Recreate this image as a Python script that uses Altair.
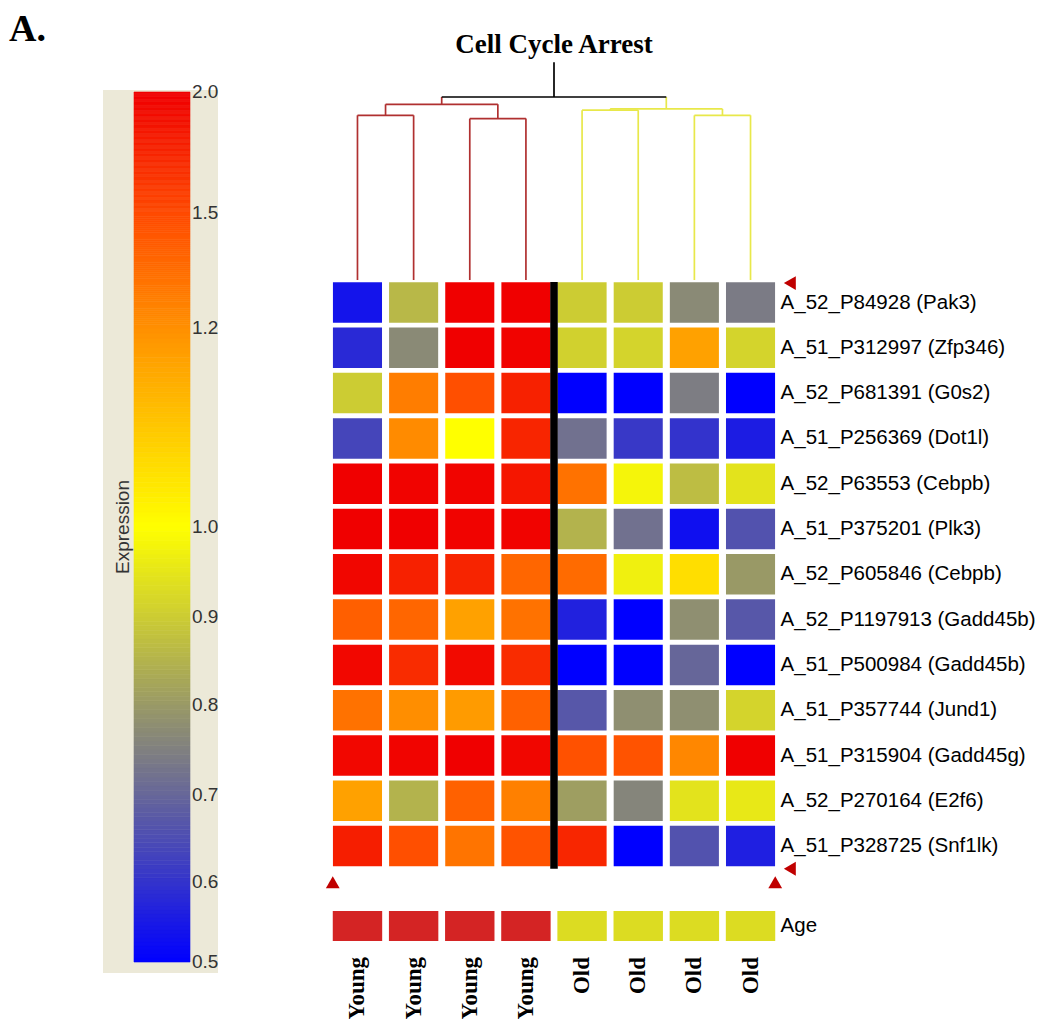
import altair as alt
import pandas as pd
import numpy as np

# ---------------- data ----------------
samples = ["Young", "Young", "Young", "Young", "Old", "Old", "Old", "Old"]
genes = [
    "A_52_P84928 (Pak3)",
    "A_51_P312997 (Zfp346)",
    "A_52_P681391 (G0s2)",
    "A_51_P256369 (Dot1l)",
    "A_52_P63553 (Cebpb)",
    "A_51_P375201 (Plk3)",
    "A_52_P605846 (Cebpb)",
    "A_52_P1197913 (Gadd45b)",
    "A_51_P500984 (Gadd45b)",
    "A_51_P357744 (Jund1)",
    "A_51_P315904 (Gadd45g)",
    "A_52_P270164 (E2f6)",
    "A_51_P328725 (Snf1lk)",
]
expression = [
    [0.54, 0.86, 2.00, 2.00, 0.90, 0.90, 0.77, 0.74],
    [0.58, 0.77, 2.00, 1.98, 0.91, 0.915, 1.17, 0.915],
    [0.90, 1.28, 1.48, 1.78, 0.50, 0.50, 0.745, 0.50],
    [0.635, 1.22, 1.00, 1.75, 0.72, 0.61, 0.60, 0.555],
    [2.00, 1.98, 1.97, 1.85, 1.33, 0.98, 0.87, 0.945],
    [2.00, 2.00, 1.98, 1.98, 0.85, 0.72, 0.53, 0.66],
    [1.96, 1.78, 1.76, 1.38, 1.36, 0.97, 1.06, 0.80],
    [1.41, 1.38, 1.17, 1.33, 0.565, 0.50, 0.78, 0.67],
    [1.95, 1.70, 1.93, 1.70, 0.50, 0.50, 0.70, 0.50],
    [1.33, 1.21, 1.18, 1.40, 0.67, 0.78, 0.78, 0.915],
    [1.95, 1.97, 2.00, 1.96, 1.47, 1.46, 1.24, 2.00],
    [1.17, 0.85, 1.40, 1.27, 0.81, 0.76, 0.945, 0.955],
    [1.80, 1.48, 1.32, 1.46, 1.74, 0.50, 0.66, 0.56],
]
# dendrogram merges: (left child, right child, height); leaves are sample indices
merges = [
    (0, 1, 0.900),
    (2, 3, 0.882),
    (4, 5, 0.928),
    (6, 7, 0.900),
    ("m0", "m1", 0.960),
    ("m2", "m3", 0.935),
    ("m4", "m5", 1.000),
]
stem_height = 1.19
cbar_ticks = [0.5, 0.6, 0.7, 0.8, 0.9, 1.0, 1.2, 1.5, 2.0]

# ---------------- scales / styles ----------------
XS = alt.Scale(domain=[-0.5, 7.5], range=[321.4, 770.6], nice=False, zero=False)
ROWS = alt.Scale(domain=[-0.5, 12.5], range=[271.85, 860.75], nice=False, zero=False)
DEND = alt.Scale(domain=[0, 1], range=[272, 89], nice=False, zero=False)
AGE = alt.Scale(domain=["Age"], range=[903, 933], paddingInner=0, paddingOuter=0)
CBAR_Y = alt.Scale(domain=cbar_ticks,
                   range=[954, 874, 787, 697, 609, 519, 320, 205, 84],
                   nice=False, zero=False)
COLOR = alt.Scale(domain=[0.5, 0.75, 1.0, 1.2, 1.5, 2.0],
                  range=["#0000ff", "#808080", "#ffff00", "#ff9000", "#ff4a00", "#f00000"],
                  interpolate="rgb", clamp=True)
SANS = "Liberation Sans"
SERIF = "Liberation Serif"

# ---------------- tables ----------------
heat_df = pd.DataFrame([
    {"row": r, "col": c, "gene": genes[r], "value": expression[r][c]}
    for r in range(len(genes)) for c in range(len(samples))
])
gene_df = pd.DataFrame({"row": list(range(len(genes))), "gene": genes})
age_df = pd.DataFrame({"col": list(range(len(samples))), "group": samples, "track": "Age"})
sample_df = pd.DataFrame({"col": list(range(len(samples))), "label": samples})

# dendrogram segments
pos = {i: (float(i), 0.0, samples[i]) for i in range(len(samples))}
segs = []
for k, (a, b, h) in enumerate(merges):
    xa, ha, ga = pos[a]
    xb, hb, gb = pos[b]
    grp = ga if ga == gb else "root"
    segs.append({"x": xa, "x2": xa, "y": ha, "y2": h, "grp": ga})
    segs.append({"x": xb, "x2": xb, "y": hb, "y2": h, "grp": gb})
    segs.append({"x": xa, "x2": xb, "y": h, "y2": h, "grp": grp})
    pos["m%d" % k] = ((xa + xb) / 2.0, h, grp)
root_x, root_h, _ = pos["m%d" % (len(merges) - 1)]
segs.append({"x": root_x, "x2": root_x, "y": root_h, "y2": stem_height, "grp": "root"})
seg_df = pd.DataFrame(segs)

step = 0.005
grad_v = np.round(np.arange(0.5, 2.0, step), 4)
grad_df = pd.DataFrame({"v0": grad_v, "v1": grad_v + step, "vm": grad_v + step / 2})
tick_df = pd.DataFrame({"tick": cbar_ticks})
one = pd.DataFrame({"k": [0]})

# ---------------- layers ----------------
cells = alt.Chart(heat_df).transform_calculate(
    x0="datum.col - 0.437", x1="datum.col + 0.437",
    y0="datum.row - 0.447", y1="datum.row + 0.447",
).mark_rect().encode(
    x=alt.X("x0:Q", scale=XS, axis=None), x2="x1:Q",
    y=alt.Y("y0:Q", scale=ROWS, axis=None), y2="y1:Q",
    color=alt.Color("value:Q", scale=COLOR, legend=None),
)

separator = alt.Chart(one).mark_rule(color="black", strokeWidth=7.5).encode(
    x=alt.XDatum(3.5, scale=XS, axis=None),
    y=alt.YDatum(-0.45, scale=ROWS, axis=None),
    y2=alt.Y2Datum(12.5),
)

gene_labels = alt.Chart(gene_df).mark_text(
    align="left", baseline="middle", font=SANS, fontSize=20.5, color="black", dx=2
).encode(
    x=alt.XDatum(7.5, scale=XS, axis=None),
    y=alt.Y("row:Q", scale=ROWS, axis=None),
    text="gene:N",
)

age_cells = alt.Chart(age_df).transform_calculate(
    x0="datum.col - 0.44", x1="datum.col + 0.44"
).mark_rect().encode(
    x=alt.X("x0:Q", scale=XS, axis=None), x2="x1:Q",
    y=alt.Y("track:N", scale=AGE, axis=None),
    color=alt.Color("group:N", scale=alt.Scale(domain=["Young", "Old"],
                                               range=["#d42424", "#dcdc22"]), legend=None),
)

age_label = alt.Chart(age_df.iloc[:1]).mark_text(
    align="left", baseline="middle", font=SANS, fontSize=20.5, color="black", dx=2
).encode(
    x=alt.XDatum(7.5, scale=XS, axis=None),
    y=alt.Y("track:N", scale=AGE, axis=None),
    text="track:N",
)

sample_labels = alt.Chart(sample_df).mark_text(
    angle=270, align="right", baseline="middle", font=SERIF, fontWeight="bold",
    fontSize=23, color="black"
).encode(
    x=alt.X("col:Q", scale=XS, axis=None),
    y=alt.value(949),
    text="label:N",
)

dendro = alt.Chart(seg_df).mark_rule(strokeWidth=1.7).encode(
    x=alt.X("x:Q", scale=XS, axis=None), x2="x2:Q",
    y=alt.Y("y:Q", scale=DEND, axis=None), y2="y2:Q",
    color=alt.Color("grp:N", scale=alt.Scale(domain=["Young", "Old", "root"],
                                             range=["#b03030", "#e8e84a", "#000000"]),
                    legend=None),
)

title = alt.Chart(one).mark_text(
    text="Cell Cycle Arrest", align="center", baseline="alphabetic",
    font=SERIF, fontWeight="bold", fontSize=27, color="black"
).encode(x=alt.XDatum(root_x, scale=XS, axis=None), y=alt.value(45))

panel_letter = alt.Chart(one).mark_text(
    text="A.", align="left", baseline="alphabetic",
    font=SERIF, fontWeight="bold", fontSize=38, color="black"
).encode(x=alt.value(1), y=alt.value(33))

tri_style = dict(filled=True, size=190, color="#c00000", opacity=1)
tri_bl = alt.Chart(one).mark_point(shape="triangle-up", **tri_style).encode(
    x=alt.XDatum(-0.44, scale=XS, axis=None), y=alt.YDatum(12.8, scale=ROWS, axis=None))
tri_br = alt.Chart(one).mark_point(shape="triangle-up", **tri_style).encode(
    x=alt.XDatum(7.44, scale=XS, axis=None), y=alt.YDatum(12.8, scale=ROWS, axis=None))
tri_rb = alt.Chart(one).mark_point(shape="triangle-left", **tri_style).encode(
    x=alt.XDatum(7.7, scale=XS, axis=None), y=alt.YDatum(12.5, scale=ROWS, axis=None))
tri_rt = alt.Chart(one).mark_point(shape="triangle-left", **tri_style).encode(
    x=alt.XDatum(7.7, scale=XS, axis=None), y=alt.YDatum(-0.43, scale=ROWS, axis=None))

# colour bar legend
cbar_panel = alt.Chart(one).mark_rect(fill="#ece9d8").encode(
    x=alt.value(95), x2=alt.value(210), y=alt.value(82), y2=alt.value(965))

cbar = alt.Chart(grad_df).mark_rect(strokeWidth=0.6).encode(
    x=alt.value(126), x2=alt.value(182),
    y=alt.Y("v0:Q", scale=CBAR_Y, axis=None), y2="v1:Q",
    color=alt.Color("vm:Q", scale=COLOR, legend=None),
    stroke=alt.Stroke("vm:Q", scale=COLOR, legend=None),
)

cbar_labels = alt.Chart(tick_df).mark_text(
    align="left", baseline="middle", font=SANS, fontSize=19, color="#333333"
).encode(
    x=alt.value(184),
    y=alt.Y("tick:Q", scale=CBAR_Y, axis=None),
    text=alt.Text("tick:Q", format=".1f"),
)

cbar_title = alt.Chart(one).mark_text(
    text="Expression", angle=270, align="center", baseline="middle",
    font=SANS, fontSize=19, color="#333333"
).encode(x=alt.value(115), y=alt.YDatum(1.0, scale=CBAR_Y, axis=None))

chart = alt.layer(
    cbar_panel, cbar, cbar_labels, cbar_title,
    dendro, title, panel_letter,
    cells, separator, gene_labels,
    age_cells, age_label, sample_labels,
    tri_bl, tri_br, tri_rb, tri_rt,
).resolve_scale(
    y="independent", color="independent", stroke="independent"
).properties(
    width=1034, height=1011, padding=0,
    autosize=alt.AutoSizeParams(type="none"),
    background="white",
).configure_view(stroke=None)

chart.save("out.html", embed_options={"renderer": "svg", "actions": False})
